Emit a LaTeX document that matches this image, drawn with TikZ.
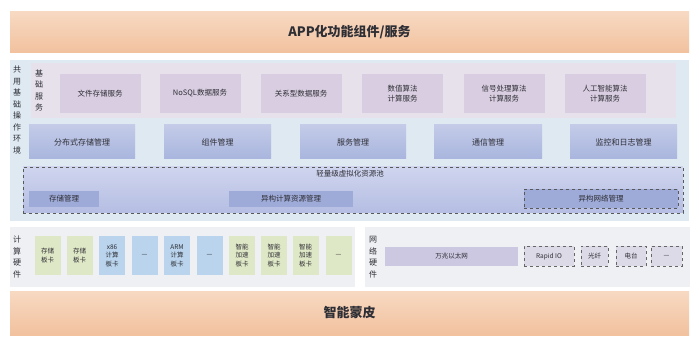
\documentclass[tikz,border=0pt]{standalone}
\usepackage{fontspec}
\setmainfont{Noto Sans CJK SC}
\definecolor{barTop}{HTML}{F7D9C2}
\definecolor{barBot}{HTML}{F2C19E}
\definecolor{envC}{HTML}{DEE9F1}
\definecolor{basicC}{HTML}{E7E1EC}
\definecolor{svcC}{HTML}{D9CEE1}
\definecolor{mgrTop}{HTML}{C3CBE8}
\definecolor{mgrBot}{HTML}{A9B5DE}
\definecolor{poolTop}{HTML}{CFD5EE}
\definecolor{poolBot}{HTML}{B5BEE3}
\definecolor{resC}{HTML}{9EAAD7}
\definecolor{hwC}{HTML}{EFF0F4}
\definecolor{gC}{HTML}{DFE8C6}
\definecolor{bC}{HTML}{B9D4EC}
\definecolor{n1C}{HTML}{CCC8E1}
\definecolor{dC}{HTML}{DCDAE6}
\definecolor{txtC}{HTML}{2E2E35}
\begin{document}
\begin{tikzpicture}[x=1pt,y=-1pt,
  every node/.style={inner sep=0pt,outer sep=0pt,text=txtC,align=center},
  bar/.style={top color=barTop,bottom color=barBot,minimum width=679pt,
    font=\fontsize{13}{15}\selectfont\bfseries},
  panel/.style={fill=#1},
  svc/.style={fill=svcC,minimum width=81pt,minimum height=39pt,
    font=\fontsize{7.5}{10}\selectfont},
  mgr/.style={top color=mgrTop,bottom color=mgrBot,
    minimum height=34pt,font=\fontsize{8}{10}\selectfont},
  res/.style={fill=resC,minimum height=16pt,font=\fontsize{7.5}{9}\selectfont},
  card/.style={minimum width=26pt,minimum height=39pt,font=\fontsize{6.5}{8.5}\selectfont},
  gcard/.style={card,fill=gC},
  bcard/.style={card,fill=bC},
  dbox/.style={draw=black!60,dashed,line width=0.7pt,fill=dC,minimum height=20pt,
    font=\fontsize{6.5}{8}\selectfont},
  vlab/.style={font=\fontsize{8}{11.5}\selectfont}
]
\useasboundingbox (0,0) rectangle (699,339);
\fill[white] (0,0) rectangle (699,339);
% top bar
\node[bar,minimum height=41pt] (app) at (349.5,32.5) {APP化功能组件/服务};
% shared environment
\node[panel=envC,minimum width=679pt,minimum height=161pt] (env) at (349.5,140.5) {};
\node[vlab] (envl) at (17,110) {共\\用\\基\\础\\操\\作\\环\\境};
\node[panel=basicC,minimum width=645pt,minimum height=55pt] (basic) at (353.5,90.5) {};
\node[vlab] (basicl) at (39,90.5) {基\\础\\服\\务};
\node[svc] (s1) at (100,93.5) {文件存储服务};
\node[svc] (s2) at (200,93.5) {NoSQL数据服务};
\node[svc] (s3) at (301,93.5) {关系型数据服务};
\node[svc] (s4) at (402.5,93.5) {数值算法\\计算服务};
\node[svc] (s5) at (504,93.5) {信号处理算法\\计算服务};
\node[svc] (s6) at (605,93.5) {人工智能算法\\计算服务};
\node[mgr,minimum width=106pt] (m1) at (82,142) {分布式存储管理};
\node[mgr,minimum width=107pt] (m2) at (217.5,142) {组件管理};
\node[mgr,minimum width=106pt] (m3) at (353,142) {服务管理};
\node[mgr,minimum width=108pt] (m4) at (488,142) {通信管理};
\node[mgr,minimum width=107pt] (m5) at (623.5,142) {监控和日志管理};
% virtual resource pool
\node[draw=black!65,dashed,line width=0.7pt,top color=poolTop,bottom color=poolBot,
  minimum width=660pt,minimum height=46pt] (pool) at (353,190) {};
\node[font=\fontsize{7.5}{9}\selectfont] (poolt) at (350,174) {轻量级虚拟化资源池};
\node[res,minimum width=70pt] (r1) at (64,199) {存储管理};
\node[res,minimum width=124pt] (r2) at (291,199) {异构计算资源管理};
\node[res,draw=black!65,dashed,line width=0.7pt,minimum width=154pt,minimum height=19pt] (r3) at (601,198.5) {异构网络管理};
% compute hardware
\node[panel=hwC,minimum width=345pt,minimum height=60pt] (hw) at (182.5,257) {};
\node[vlab] (hwl) at (17,257) {计\\算\\硬\\件};
\node[gcard] (c1) at (47.5,255.5) {存储\\板卡};
\node[gcard] (c2) at (79.5,255.5) {存储\\板卡};
\node[bcard] (c3) at (112,255.5) {x86\\计算\\板卡};
\node[bcard] (c4) at (144.5,255.5) {—};
\node[bcard] (c5) at (177,255.5) {ARM\\计算\\板卡};
\node[bcard] (c6) at (209.5,255.5) {—};
\node[gcard] (c7) at (242,255.5) {智能\\加速\\板卡};
\node[gcard] (c8) at (274,255.5) {智能\\加速\\板卡};
\node[gcard] (c9) at (305.5,255.5) {智能\\加速\\板卡};
\node[gcard] (c10) at (338.5,255.5) {—};
% network hardware
\node[panel=hwC,minimum width=325pt,minimum height=60pt] (net) at (527.5,257) {};
\node[vlab] (netl) at (373,257) {网\\络\\硬\\件};
\node[fill=n1C,minimum width=133pt,minimum height=19pt,font=\fontsize{6.5}{8}\selectfont] (n1) at (451.5,256.5) {万兆以太网};
\node[dbox,minimum width=50pt] (n2) at (549,256.5) {Rapid IO};
\node[dbox,minimum width=27pt] (n3) at (594.5,256.5) {光纤};
\node[dbox,minimum width=30pt] (n4) at (631,256.5) {电台};
\node[dbox,minimum width=31pt] (n5) at (666.5,256.5) {—};
% bottom bar
\node[bar,minimum height=44pt] (skin) at (349.5,313) {智能蒙皮};
\end{tikzpicture}
\end{document}
